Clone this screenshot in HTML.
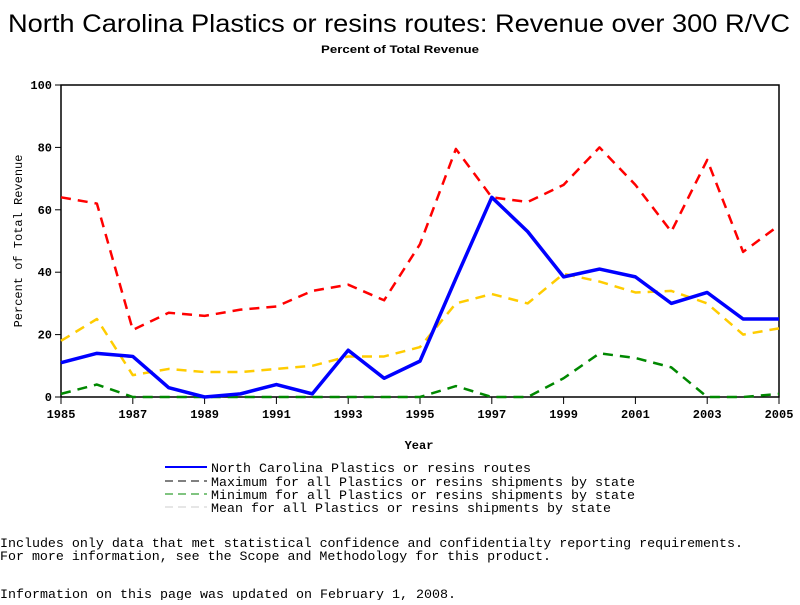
<!DOCTYPE html>
<html><head><meta charset="utf-8"><style>
body{margin:0;background:#fff;width:800px;height:600px;overflow:hidden}
text{font-family:"Liberation Mono",monospace}
</style></head><body>
<svg id="chart" width="800" height="600">
<text x="8" y="32" font-size="25" textLength="782" lengthAdjust="spacingAndGlyphs" style="font-family:'Liberation Sans',sans-serif">North Carolina Plastics or resins routes: Revenue over 300 R/VC</text>
<text x="321" y="53" font-size="11" font-weight="bold" textLength="158" lengthAdjust="spacingAndGlyphs" style="font-family:'Liberation Sans',sans-serif">Percent of Total Revenue</text>
<rect x="61" y="85" width="718" height="312" fill="none" stroke="#000" stroke-width="1.5"/>
<g id="axes"></g><g id="series"></g>
<text x="419" y="449" text-anchor="middle" font-size="12" font-weight="bold">Year</text>
<text transform="translate(22,241) rotate(-90)" text-anchor="middle" font-size="12">Percent of Total Revenue</text>
<g font-size="12.5">
<line x1="165" y1="467" x2="207" y2="467" stroke="#00f" stroke-width="2"/>
<text x="211" y="472" textLength="320" lengthAdjust="spacingAndGlyphs">North Carolina Plastics or resins routes</text>
<line x1="165" y1="481" x2="207" y2="481" stroke="#000" stroke-dasharray="8,5"/>
<text x="211" y="486" textLength="424" lengthAdjust="spacingAndGlyphs">Maximum for all Plastics or resins shipments by state</text>
<line x1="165" y1="494" x2="207" y2="494" stroke="#080" stroke-dasharray="8,5"/>
<text x="211" y="499" textLength="424" lengthAdjust="spacingAndGlyphs">Minimum for all Plastics or resins shipments by state</text>
<line x1="165" y1="507" x2="207" y2="507" stroke="#ccc" stroke-dasharray="8,5"/>
<text x="211" y="512" textLength="400" lengthAdjust="spacingAndGlyphs">Mean for all Plastics or resins shipments by state</text>
</g>
<g font-size="12.5">
<text x="0" y="547" textLength="743" lengthAdjust="spacingAndGlyphs">Includes only data that met statistical confidence and confidentialty reporting requirements.</text>
<text x="0" y="560" textLength="551" lengthAdjust="spacingAndGlyphs">For more information, see the Scope and Methodology for this product.</text>
<text x="0" y="598" textLength="456" lengthAdjust="spacingAndGlyphs">Information on this page was updated on February 1, 2008.</text>
</g>
</svg>
<script>
const years=[1985,1986,1987,1988,1989,1990,1991,1992,1993,1994,1995,1996,1997,1998,1999,2000,2001,2002,2003,2004,2005];
const ncValues=[11,14,13,3,0,1,4,1,15,6,11.5,38,64,53,38.5,41,38.5,30,33.5,25,25];
const maxValues=[64,62,21.5,27,26,28,29,34,36,31,49,79.5,64,62.5,68,80,68,53,76,46.5,55];
const minValues=[1,4,0,0,0,0,0,0,0,0,0,3.5,0,0,6,14,12.5,9.5,0,0,1];
const meanValues=[18,25,7,9,8,8,9,10,13,13,16,30,33,30,39.5,37,33.5,34,30,20,22];
const xTicks=[1985,1987,1989,1991,1993,1995,1997,1999,2001,2003,2005];
const yTicks=[0,20,40,60,80,100];
const NS='http://www.w3.org/2000/svg';
const xs=v=>61+(v-1985)*(718/20);
const ys=v=>397-v*3.12;
const axes=document.getElementById('axes'),ser=document.getElementById('series');
function mk(tag,attrs,parent){const e=document.createElementNS(NS,tag);for(const k in attrs)e.setAttribute(k,attrs[k]);parent.appendChild(e);return e;}
xTicks.forEach(t=>{
 const l=mk('line',{x1:xs(t),x2:xs(t),y1:397,y2:404,stroke:'#000'},axes);
 
 
 const tx=mk('text',{x:xs(t),y:418,'text-anchor':'middle','font-size':12,'font-weight':'bold'},axes);tx.textContent=t;
 
 
});
yTicks.forEach(t=>{
 const l=mk('line',{x1:55,x2:61,y1:ys(t),y2:ys(t),stroke:'#000'},axes);
 
 
 const tx=mk('text',{x:52,y:ys(t)+4,'text-anchor':'end','font-size':12,'font-weight':'bold'},axes);tx.textContent=t;
 
 
});
function line(vals,color,w,dash,name){
 const p=mk('polyline',{points:vals.map((v,i)=>xs(years[i])+','+ys(v)).join(' '),fill:'none',stroke:color,'stroke-width':w,'stroke-linejoin':'round'},ser);
 if(dash)p.setAttribute('stroke-dasharray',dash);
 
 
}
line(maxValues,'#f00',2.5,'10,7','series-max');
line(meanValues,'#fc0',2.5,'10,7','series-mean');
line(minValues,'#080',2.5,'10,7','series-min');
line(ncValues,'#00f',3.5,null,'series-north-carolina');
</script>
</body></html>
